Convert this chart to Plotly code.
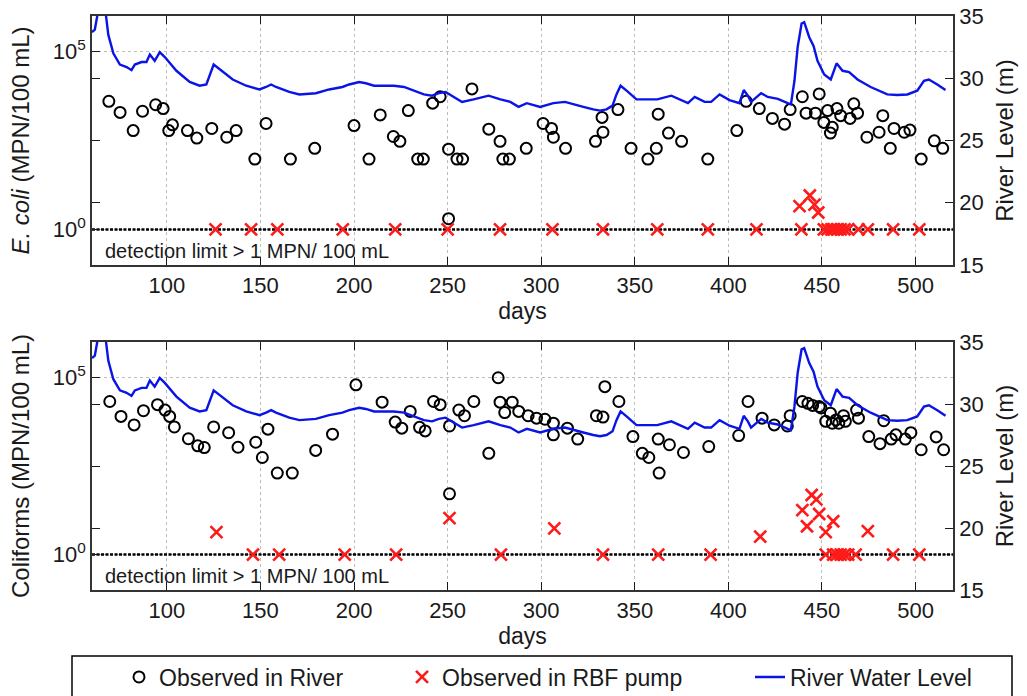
import plotly.graph_objects as go

# ---------------- data ----------------
# E. coli observed in the river (day, MPN/100 mL)
ecoli_river_day = [69, 75, 82, 87, 94, 98, 101, 103, 111, 116, 124, 132, 137, 147, 153,
                   166, 179, 200, 208, 214, 221, 224.5, 229, 234, 237, 242, 246, 250.5, 250.5,
                   255, 258, 263, 272, 278, 279.5, 283, 292, 301, 305.5, 306.5, 313, 329,
                   332.5, 333, 341, 348, 357, 361.5, 362.5, 368, 375, 389, 404.5, 409.5,
                   416.5, 423.5, 430, 433, 439.5, 441.5, 446.5, 448.5, 451, 453, 454.5,
                   455.5, 458, 460, 465, 467, 469, 474, 480.5, 482.5, 486.5, 488.5, 494,
                   497, 503, 510, 514.5]
ecoli_river_val = [4000, 1950, 600, 2100, 3200, 2500, 600, 870, 600, 370, 690, 390, 600, 95, 950,
                   95, 190, 830, 95, 1660, 410, 300, 2190, 95, 95, 3550, 5370, 180, 2,
                   95, 95, 8900, 660, 300, 95, 95, 190, 950, 690, 390, 190, 300,
                   1410, 540, 2340, 190, 95, 190, 1740, 510, 300, 95, 600, 4000,
                   2500, 1320, 910, 2340, 5370, 1860, 1860, 6460, 1020, 2190, 510,
                   740, 2500, 1580, 1320, 3390, 1860, 390, 540, 1580, 190, 690, 540,
                   620, 95, 310, 190]

# E. coli observed in the RBF pump
ecoli_pump_day = [126, 145, 159, 194, 222, 250, 278, 306, 333, 362, 389, 415, 439,
                  451, 453, 455, 456, 458, 460, 462, 464, 469.5, 474.5, 488, 502,
                  438, 443.5, 446, 448]
ecoli_pump_val = [1, 1, 1, 1, 1, 1, 1, 1, 1, 1, 1, 1, 1,
                  1, 1, 1, 1, 1, 1, 1, 1, 1, 1, 1, 1,
                  4.5, 9, 5, 3]

# Total coliforms observed in the river
coli_river_day = [69.5, 75.5, 82.5, 87.5, 95, 99, 101.5, 104, 111.5, 116.5, 120, 125, 133,
                  138, 147.5, 151, 154, 159, 167, 179.5, 188.5, 201, 215, 222, 225.5,
                  230, 235, 238, 242.5, 246, 251, 251, 256, 259, 264, 272, 277, 278,
                  280.5, 284.5, 288, 293, 297.5, 302, 306.5, 306.5, 314, 319.5, 329.5,
                  333, 334, 341.5, 349, 354, 357.5, 362.5, 363, 368.5, 376, 389.5, 405.5,
                  410.5, 418, 424.5, 431.5, 433, 439.5, 442.5, 445, 448.5, 449.5, 452,
                  454.5, 455.5, 457.5, 459, 461.5, 462.5, 468.5, 469.5, 475, 481, 483,
                  487, 489.5, 494.5, 497.5, 503, 511, 515]
coli_river_val = [20900, 7940, 4570, 11500, 17000, 12000, 7940, 4000, 1860, 1170, 1050, 4000, 2750,
                  1070, 1480, 550, 3470, 200, 200, 870, 2500, 61700, 20000, 5500, 3700,
                  11000, 3900, 3100, 20900, 17000, 4270, 52, 12000, 8300, 20900, 720, 98000, 20000,
                  10200, 20000, 11000, 8300, 7100, 6600, 5100, 2400, 3700, 1820, 8300,
                  7600, 55000, 20900, 2140, 720, 550, 1820, 200, 1260, 760, 1120, 2290,
                  20900, 7100, 4570, 4270, 8300, 20900, 18600, 16200, 15100, 13800, 5750,
                  9800, 5100, 6300, 5100, 8300, 5750, 12000, 7100, 2140, 1350, 6000,
                  1820, 2400, 1820, 2750, 910, 2090, 910]

# Total coliforms observed in the RBF pump
coli_pump_day = [146, 160, 195, 222.5, 278.5, 333, 362.5, 390.5, 452, 456, 458, 460,
                 462, 464, 468, 488, 502,
                 126.5, 251, 307, 417, 439.5, 442, 444.5, 447, 448.5, 452, 456, 474.5]
coli_pump_val = [1, 1, 1, 1, 1, 1, 1, 1, 1, 1, 1, 1,
                 1, 1, 1, 1, 1,
                 4.3, 10.7, 5.5, 3.2, 18, 6.3, 48, 36, 14, 4.3, 8.7, 4.6]

# River water level (day, m)
level_day = [60, 61.5, 62.8, 64.5, 66, 67.5, 68.7, 71.4, 74.9, 78.5, 81.1, 82.9, 86.5, 89.1,
             90.9, 93.5, 96.2, 98.9, 105.1, 112.2, 117.5, 121.1, 125, 128.2, 131.7, 135.2,
             142.4, 149.5, 153, 155.7, 158.3, 165.4, 170.8, 179.6, 186.7, 193.8, 197.4,
             202.7, 206.3, 210.7, 216, 221.3, 226.7, 232, 237.3, 241.7, 245.3, 248.9,
             253.3, 257.7, 263.9, 271.9, 278.2, 283.5, 287.9, 292.3, 299.4, 306.5, 312.7,
             317.2, 322.5, 327.8, 331.4, 334.9, 338.1, 340.2, 342.4, 345.6, 350.9, 356.2,
             362, 369.5, 374.8, 378.4, 382, 387.3, 390.8, 395.3, 400.6, 405.9, 408.2,
             410.4, 412.1, 417.5, 421, 426.4, 431.7, 433.4, 435.3, 437, 439.1, 440.5,
             443.2, 445.5, 447.6, 451.2, 454.7, 457.8, 461, 464.5, 469, 476, 484.9,
             490.2, 495.6, 500.9, 504.5, 507.1, 511.6, 516]
level_m = [33.7, 33.9, 35.0, 36.2, 36.0, 35.0, 33.5, 32.0, 31.1, 30.9, 30.65, 31.1, 31.3, 31.3,
           31.9, 31.4, 32.1, 31.7, 30.6, 29.7, 29.4, 29.5, 31.1, 30.7, 30.3, 29.9,
           29.4, 29.1, 29.3, 29.5, 29.3, 28.9, 28.7, 28.8, 29.1, 29.3, 29.5,
           29.7, 29.6, 29.4, 29.4, 29.4, 29.3, 29.0, 28.7, 28.6, 28.8, 28.9,
           28.5, 28.1, 28.3, 28.6, 28.3, 28.1, 27.7, 28.0, 27.7, 28.0, 28.1,
           27.9, 27.7, 27.5, 27.4, 27.5, 27.8, 28.7, 29.4, 29.0, 28.3, 28.3,
           28.3, 28.6, 28.25, 28.0, 28.5, 28.1, 28.1, 28.7, 28.25, 28.0, 29.05,
           28.6, 28.1, 28.8, 28.5, 28.35, 28.0, 27.9, 29.8, 32.5, 34.4, 34.5,
           33.3, 32.6, 31.4, 30.3, 29.9, 31.2, 30.6, 30.5, 29.9, 29.3, 28.7,
           28.65, 28.7, 29.0, 29.8, 29.9, 29.5, 29.05]

DETECTION_LIMIT = 1
DAY_RANGE = [60, 520]
x_ticks = [100, 150, 200, 250, 300, 350, 400, 450, 500]
level_ticks = [15, 20, 25, 30, 35]
conc_ticks = [1, 1e5]
conc_ticktext = ["10<sup>0</sup>", "10<sup>5</sup>"]

# ---------------- styling ----------------
W, H = 1027, 696
FONT = "Liberation Sans, Arial, sans-serif"
INK = "#1a1a1a"
GRID = "#bcbcbc"
X_DOM = [92 / W, 953 / W]
TOP_DOM = [1 - 265 / H, 1 - 16 / H]
BOT_DOM = [1 - 590 / H, 1 - 342 / H]

circle = dict(symbol="circle-open", size=11, color="black", line=dict(width=2, color="black"))
cross = dict(symbol="x-thin-open", size=12, color="#ff1a1a", line=dict(width=2.6, color="#ff1a1a"))
level_line = dict(color="#0a14e6", width=2.4)

fig = go.Figure()

panels = [
    ("x", "y", "y2", ecoli_river_day, ecoli_river_val, ecoli_pump_day, ecoli_pump_val, True),
    ("x2", "y3", "y4", coli_river_day, coli_river_val, coli_pump_day, coli_pump_val, False),
]
for xa, ya, ya2, rd, rv, pd_, pv, show in panels:
    # detection limit reference line
    fig.add_trace(go.Scatter(x=DAY_RANGE, y=[DETECTION_LIMIT, DETECTION_LIMIT], mode="lines",
                             line=dict(color="black", width=2.5, dash="3px,1.5px"),
                             xaxis=xa, yaxis=ya, showlegend=False, hoverinfo="skip"))
    fig.add_trace(go.Scatter(x=rd, y=rv, mode="markers", marker=circle, xaxis=xa, yaxis=ya,
                             name="Observed in River", showlegend=show, legend="legend"))
    fig.add_trace(go.Scatter(x=pd_, y=pv, mode="markers", marker=cross, xaxis=xa, yaxis=ya,
                             name="Observed in RBF pump", showlegend=show, legend="legend2"))
    fig.add_trace(go.Scatter(x=level_day, y=level_m, mode="lines", line=level_line,
                             xaxis=xa, yaxis=ya2, name="River Water Level",
                             showlegend=show, legend="legend3"))


def x_axis(anchor):
    return dict(domain=X_DOM, anchor=anchor, range=DAY_RANGE, tickvals=x_ticks,
                ticks="inside", ticklen=8, tickcolor=INK, mirror="ticks", showline=True,
                linecolor="#333333", linewidth=1.5, showgrid=True, gridcolor=GRID,
                griddash="dot", gridwidth=1, zeroline=False,
                tickfont=dict(size=22, color=INK),
                title=dict(text="days", font=dict(size=23, color=INK), standoff=2))


def conc_axis(anchor, dom, title):
    return dict(domain=dom, anchor=anchor, type="log", range=[-1, 6], tickvals=conc_ticks,
                ticktext=conc_ticktext, ticks="inside", ticklen=8, tickcolor=INK,
                showline=True, linecolor="#333333", linewidth=1.5, showgrid=True,
                gridcolor=GRID, griddash="dot", gridwidth=1, zeroline=False,
                tickfont=dict(size=22, color=INK),
                title=dict(text=title, font=dict(size=24, color=INK), standoff=16))


def level_axis(anchor, over):
    return dict(anchor=anchor, overlaying=over, side="right", range=[15, 35],
                tickvals=level_ticks, ticks="inside", ticklen=8, tickcolor=INK,
                mirror="ticks", showline=True, linecolor="#333333", linewidth=1.5,
                showgrid=False, zeroline=False, tickfont=dict(size=22, color=INK),
                title=dict(text="River Level (m)", font=dict(size=24, color=INK), standoff=14))


def legend_at(px):
    return dict(x=px / W, y=1 - 677 / H, xanchor="left", yanchor="middle",
                orientation="h", bgcolor="rgba(0,0,0,0)", borderwidth=0,
                font=dict(size=23, color=INK, family=FONT))


annotations = []
for xref, yref in [("x", "y"), ("x2", "y3")]:
    annotations.append(dict(text="detection limit > 1 MPN/ 100 mL", xref=f"{xref} domain",
                            yref=f"{yref} domain", x=0.013, y=0.055, xanchor="left",
                            yanchor="middle", showarrow=False,
                            font=dict(size=20, color=INK, family=FONT)))

# legend frame
shapes = [dict(type="rect", xref="paper", yref="paper", x0=72 / W, x1=1012 / W,
               y0=-0.05, y1=1 - 656 / H, line=dict(color="black", width=1.5),
               fillcolor="rgba(0,0,0,0)")]

fig.update_layout(
    width=W, height=H, margin=dict(l=0, r=0, t=0, b=0, autoexpand=False),
    paper_bgcolor="white", plot_bgcolor="white",
    font=dict(family=FONT, color=INK),
    xaxis=x_axis("y"), xaxis2=x_axis("y3"),
    yaxis=conc_axis("x", TOP_DOM, "<i>E. coli</i> (MPN/100 mL)"),
    yaxis2=level_axis("x", "y"),
    yaxis3=conc_axis("x2", BOT_DOM, "Coliforms (MPN/100 mL)"),
    yaxis4=level_axis("x2", "y3"),
    legend=legend_at(119), legend2=legend_at(402), legend3=legend_at(750),
    shapes=shapes, annotations=annotations,
)

fig.write_html("out.html")
